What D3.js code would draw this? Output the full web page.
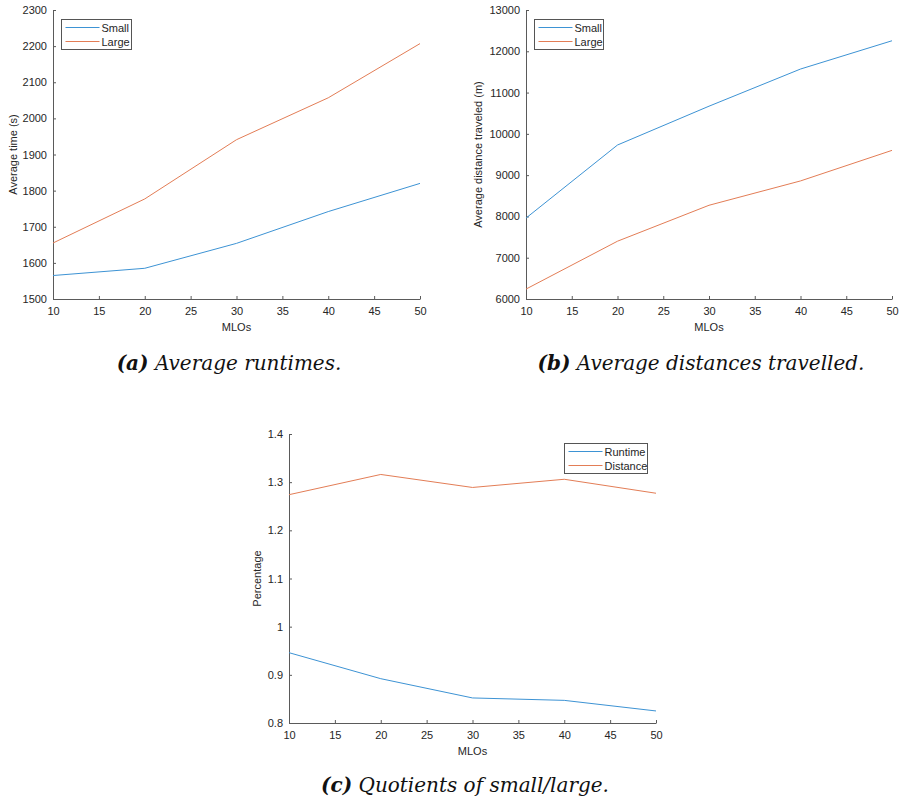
<!DOCTYPE html>
<html>
<head>
<meta charset="utf-8">
<script src="https://cdn.jsdelivr.net/npm/d3@7"></script>
<style>
  body { margin: 0; background: #fff; }
  svg { display: block; }
  .axis text { font-family: "Liberation Sans", Arial, sans-serif; font-size: 11px; fill: #262626; }
  .axis path, .axis line { stroke: #5a5a5a; }
  .lbl { font-family: "Liberation Sans", Arial, sans-serif; font-size: 11px; fill: #262626; }
  .cap { font-family: "DejaVu Serif", serif; font-style: italic; font-size: 20px; fill: #111; }
</style>
</head>
<body>
<script>
const mlos = [10, 20, 30, 40, 50];
const xTicks = [10, 15, 20, 25, 30, 35, 40, 45, 50];

// (a) runtimes (s)
const runtimeSmall = [1565, 1585, 1654, 1742, 1820];
const runtimeLarge = [1655, 1777, 1941, 2057, 2207];
// (b) distances (m)
const distSmall = [7960, 9730, 10670, 11570, 12255];
const distLarge = [6240, 7400, 8270, 8860, 9600];
// (c) quotients
const quotRuntime = [0.946, 0.892, 0.852, 0.847, 0.825];
const quotDistance = [1.274, 1.316, 1.289, 1.306, 1.277];

const color = { blue: '#3d93d4', orange: '#e37d56' };

const svg = d3.select('body').append('svg').attr('width', 899).attr('height', 804);

function panel(o){
  const g = svg.append('g');
  const x = d3.scaleLinear().domain([10, 50]).range([o.left, o.right]);
  const y = d3.scaleLinear().domain(o.yDomain).range([o.bottom, o.top]);

  const xA = d3.axisBottom(x).tickValues(xTicks).tickFormat(d3.format('d')).tickSizeInner(-3).tickSizeOuter(0).tickPadding(8);
  const yA = d3.axisLeft(y).tickValues(o.yTicks).tickFormat(o.yFmt).tickSizeInner(-3).tickSizeOuter(0).tickPadding(6);
  g.append('g').attr('class','axis').attr('transform', `translate(0,${o.bottom})`).call(xA);
  g.append('g').attr('class','axis').attr('transform', `translate(${o.left},0)`).call(yA);

  const line = d3.line().x((d,i)=>x(mlos[i])).y(d=>y(d));
  o.series.forEach(s => {
    g.append('path').datum(s.values).attr('fill','none').attr('stroke', s.color).attr('stroke-width', 1).attr('d', line);
  });

  // axis labels
  g.append('text').attr('class','lbl').attr('x', (o.left + o.right)/2).attr('y', o.bottom + 32).attr('text-anchor','middle').text('MLOs');
  g.append('text').attr('class','lbl').attr('transform', `translate(${o.yLabelX},${(o.top + o.bottom)/2}) rotate(-90)`).attr('text-anchor','middle').text(o.yLabel);

  // legend
  const L = o.legend;
  g.append('rect').attr('x', L.x).attr('y', L.y).attr('width', L.w).attr('height', 30).attr('fill','#fff').attr('stroke','#555').attr('stroke-width',1);
  o.series.forEach((s, i) => {
    const ly = L.y + 8 + i * 14;
    g.append('line').attr('x1', L.x + 4).attr('x2', L.x + 38).attr('y1', ly).attr('y2', ly).attr('stroke', s.color).attr('stroke-width', 1.2);
    g.append('text').attr('class','lbl').attr('x', L.x + 40).attr('y', ly + 4).text(s.name);
  });

  // caption
  const cap = g.append('text').attr('class','cap').attr('x', o.capX).attr('y', o.capY).attr('text-anchor','middle');
  cap.append('tspan').attr('font-weight','bold').text(o.capTag);
  cap.append('tspan').text(' ' + o.caption);
}

panel({
  left: 53, right: 420, top: 10, bottom: 299,
  yDomain: [1500, 2300], yTicks: d3.range(1500, 2301, 100), yFmt: d3.format('d'),
  yLabel: 'Average time (s)', yLabelX: 17,
  series: [{name:'Small', values: runtimeSmall, color: color.blue}, {name:'Large', values: runtimeLarge, color: color.orange}],
  legend: {x: 61.5, y: 19.5, w: 70},
  capX: 229, capY: 370, capTag: '(a)', caption: 'Average runtimes.'
});

panel({
  left: 526, right: 892, top: 10, bottom: 299,
  yDomain: [6000, 13000], yTicks: d3.range(6000, 13001, 1000), yFmt: d3.format('d'),
  yLabel: 'Average distance traveled (m)', yLabelX: 482,
  series: [{name:'Small', values: distSmall, color: color.blue}, {name:'Large', values: distLarge, color: color.orange}],
  legend: {x: 534.5, y: 19.5, w: 69},
  capX: 701, capY: 370, capTag: '(b)', caption: 'Average distances travelled.'
});

panel({
  left: 289, right: 656, top: 434, bottom: 723,
  yDomain: [0.8, 1.4], yTicks: [0.8, 0.9, 1.0, 1.1, 1.2, 1.3, 1.4], yFmt: d => String(+d.toFixed(1)),
  yLabel: 'Percentage', yLabelX: 261,
  series: [{name:'Runtime', values: quotRuntime, color: color.blue}, {name:'Distance', values: quotDistance, color: color.orange}],
  legend: {x: 564.5, y: 443.5, w: 83},
  capX: 465, capY: 792, capTag: '(c)', caption: 'Quotients of small/large.'
});
</script>
</body>
</html>
